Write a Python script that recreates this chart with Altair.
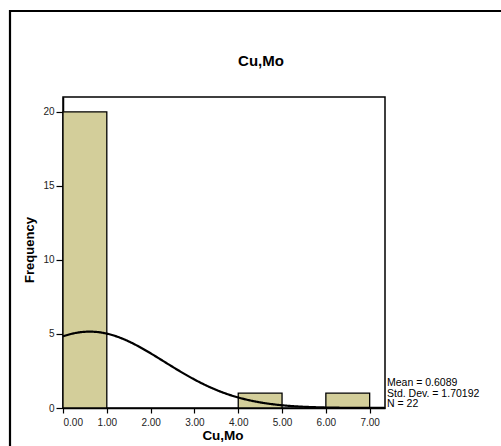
import altair as alt
import pandas as pd

# Histogram of Cu,Mo with fitted normal curve
bin_starts = [0, 1, 2, 3, 4, 5, 6]
counts = [20, 0, 0, 0, 1, 0, 1]
bin_width = 1.0

mean_value = 0.6089
std_dev = 1.70192
n_obs = 22

x_ticks = [0, 1, 2, 3, 4, 5, 6, 7]
y_ticks = [0, 5, 10, 15, 20]

FONT = "Liberation Sans"
BAR_FILL = "#d3ce9a"

bars_df = pd.DataFrame({
    "start": bin_starts,
    "end": [s + bin_width for s in bin_starts],
    "count": counts,
})
bars_df = bars_df[bars_df["count"] > 0]

x_scale = alt.Scale(domain=[0, 7.35], nice=False, zero=False)
y_scale = alt.Scale(domain=[0, 21], nice=False)

x_axis = alt.Axis(values=x_ticks, format=".2f", title=None, grid=False,
                  tickSize=5, labelPadding=4, labelFontSize=10,
                  labelFont=FONT, labelColor="#222", domainColor="black",
                  tickColor="black", domainWidth=1.5, tickWidth=1.2)
y_axis = alt.Axis(values=y_ticks, title=None, grid=False, tickSize=7,
                  labelPadding=2, labelFontSize=10, labelFont=FONT,
                  labelColor="#222", domainColor="black", tickColor="black",
                  domainWidth=1.5, tickWidth=1.2)

bars = alt.Chart(bars_df).mark_rect(
    fill=BAR_FILL, stroke="black", strokeWidth=1.3
).encode(
    x=alt.X("start:Q", scale=x_scale, axis=x_axis),
    x2="end:Q",
    y=alt.Y("count:Q", scale=y_scale, axis=y_axis),
    y2=alt.datum(0),
)

curve = alt.Chart(alt.sequence(0, 7.36, 0.02, as_="x")).transform_calculate(
    freq=f"{n_obs} * {bin_width} * densityNormal(datum.x, {mean_value}, {std_dev})"
).mark_line(color="black", strokeWidth=2.2).encode(
    x=alt.X("x:Q", scale=x_scale),
    y=alt.Y("freq:Q", scale=y_scale),
)

title = alt.Chart(pd.DataFrame({"t": ["Cu,Mo"]})).mark_text(
    font=FONT, fontSize=15, fontWeight="bold", color="black"
).encode(x=alt.value(198), y=alt.value(-36), text="t:N")

x_title = alt.Chart(pd.DataFrame({"t": ["Cu,Mo"]})).mark_text(
    font=FONT, fontSize=13.5, fontWeight="bold", color="black"
).encode(x=alt.value(160), y=alt.value(339), text="t:N")

y_title = alt.Chart(pd.DataFrame({"t": ["Frequency"]})).mark_text(
    font=FONT, fontSize=13, fontWeight="bold", color="black", angle=270
).encode(x=alt.value(-33), y=alt.value(153), text="t:N")

stats_df = pd.DataFrame({
    "line": [f"Mean = {mean_value}", f"Std. Dev. = {std_dev}", f"N = {n_obs}"],
    "row": [0, 1, 2],
})
stats = alt.Chart(stats_df).mark_text(
    font=FONT, fontSize=10.5, color="black", align="left", baseline="middle"
).transform_calculate(
    ypos="286 + datum.row * 10.5"
).encode(
    x=alt.value(324),
    y=alt.Y("ypos:Q", scale=None),
    text="line:N",
)

frame = alt.Chart(pd.DataFrame({"a": [0]})).mark_rect(
    fill=None, stroke="black", strokeWidth=2.2
).encode(
    x=alt.value(-53), x2=alt.value(620),
    y=alt.value(-86), y2=alt.value(600),
)

chart = alt.layer(bars, curve, title, x_title, y_title, stats, frame).properties(
    width=322, height=311,
    autosize=alt.AutoSizeParams(type="none"),
    padding={"left": 63, "top": 97, "right": 116, "bottom": 38},
    background="white",
).configure_view(stroke="black", strokeWidth=1.5)

chart.save("out.html", embed_options={"renderer": "svg", "actions": False})
